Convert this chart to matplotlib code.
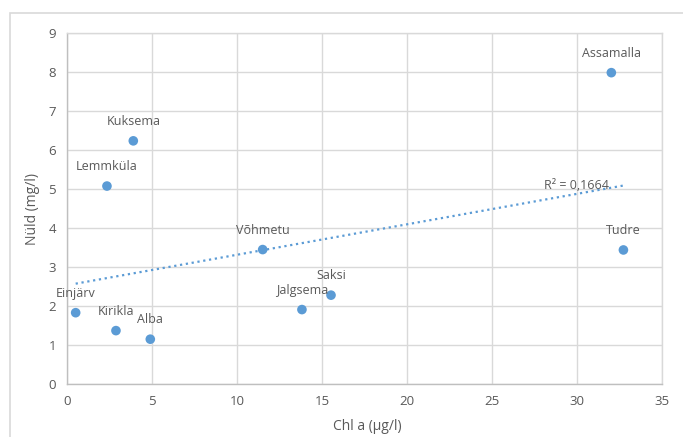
import numpy as np
import matplotlib.pyplot as plt
from matplotlib.patches import Rectangle

plt.rcParams['font.family'] = ['Open Sans', 'DejaVu Sans']

# Data
names = ['Einjärv', 'Kirikla', 'Alba', 'Lemmküla', 'Kuksema', 'Võhmetu',
         'Jalgsema', 'Saksi', 'Assamalla', 'Tudre']
chl_a = [0.51, 2.88, 4.9, 2.35, 3.9, 11.51, 13.82, 15.53, 32.02, 32.73]
n_tot = [1.83, 1.37, 1.15, 5.08, 6.24, 3.45, 1.91, 2.28, 7.99, 3.44]
r2_text = 'R² = 0,1664'

blue = '#5b9bd5'
txt = '#595959'
grid = '#d9d9d9'

fig = plt.figure(figsize=(6.83, 4.37), dpi=100)
fig.patches.append(Rectangle((10 / 683, -0.01), 1.0, 1 - 13 / 437 + 0.01,
                             transform=fig.transFigure, fill=False,
                             edgecolor=grid, linewidth=1.2))
ax = fig.add_axes([67 / 683, 53 / 437, 595 / 683, 350.7 / 437])

# trendline (linear fit)
k, b = np.polyfit(chl_a, n_tot, 1)
xs = np.array([min(chl_a), max(chl_a)])
ax.plot(xs, k * xs + b, linestyle=':', color=blue, linewidth=1.6, zorder=3)

ax.scatter(chl_a, n_tot, s=48, color=blue, zorder=4, edgecolors='none')
for name, x, y in zip(names, chl_a, n_tot):
    ax.annotate(name, (x, y), xytext=(0, 14), textcoords='offset points',
                ha='center', va='center', fontsize=9, color=txt, zorder=5)

ax.text(30.0, 5.1, r2_text, ha='center', va='center', fontsize=9, color=txt, zorder=2)

ax.set_xlim(0, 35)
ax.set_ylim(0, 9)
ax.set_xticks(range(0, 36, 5))
ax.set_yticks(range(0, 10))
ax.grid(True, color=grid, linewidth=1.0)
ax.set_axisbelow(True)
for s in ax.spines.values():
    s.set_color(grid)
    s.set_linewidth(1.0)
ax.spines['left'].set_color('#bfbfbf')
ax.spines['bottom'].set_color('#bfbfbf')
ax.tick_params(length=0, labelsize=9.5, colors=txt, pad=8)

ax.set_xlabel('Chl a (µg/l)', fontsize=10, color=txt, labelpad=4)
ax.set_ylabel('Nüld (mg/l)', fontsize=10, color=txt, labelpad=6)
ax.xaxis.set_label_coords(0.505, -0.1)
ax.yaxis.set_label_coords(-0.045, 0.5)

fig.savefig('out.png', dpi=100)
